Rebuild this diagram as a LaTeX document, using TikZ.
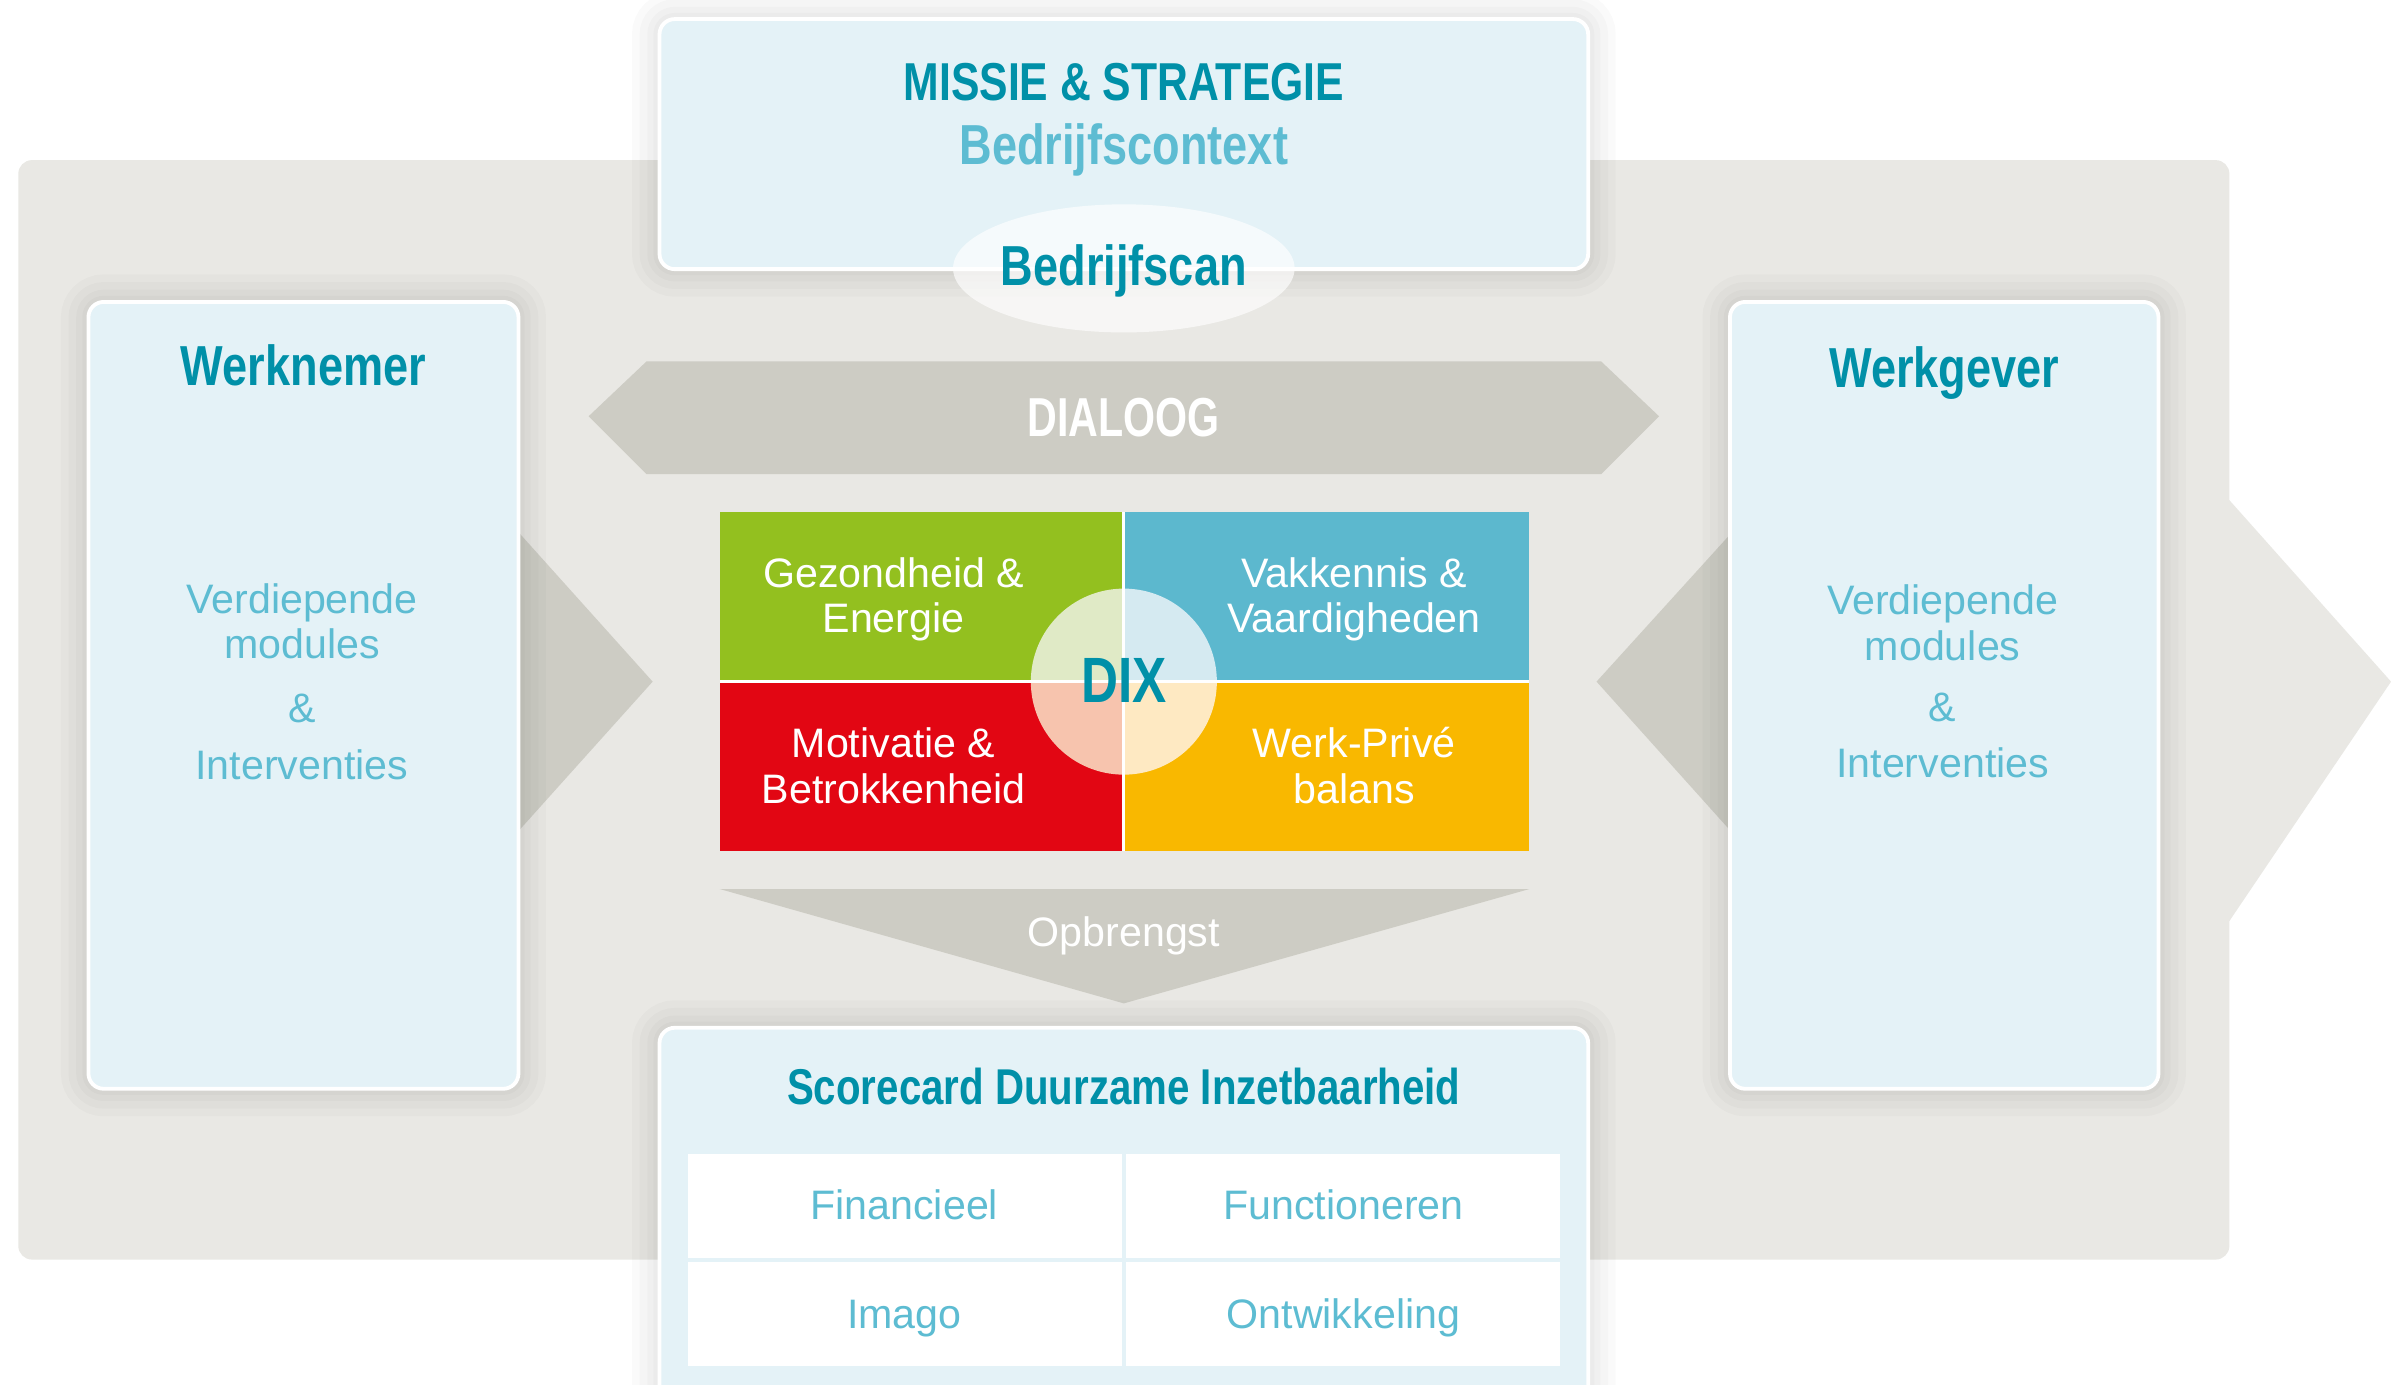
\documentclass[tikz,border=0pt]{standalone}
\usepackage{fontspec}
\setmainfont{Liberation Sans}
\newfontfamily\condf[FakeStretch=0.8]{Liberation Sans}
\newfontfamily\condg[FakeStretch=0.75]{Liberation Sans}
\usetikzlibrary{shapes.geometric}
\definecolor{panelgrey}{HTML}{E9E8E4}
\definecolor{arrowgrey}{HTML}{CDCCC4}
\definecolor{boxblue}{HTML}{E4F2F7}
\definecolor{diteal}{HTML}{0090A8}
\definecolor{ditealL}{HTML}{5DBCD2}
\definecolor{qgreen}{HTML}{93C01F}
\definecolor{qblue}{HTML}{5CB8CE}
\definecolor{qred}{HTML}{E20613}
\definecolor{qyellow}{HTML}{F9B800}
\definecolor{lgreen}{HTML}{E0EAC6}
\definecolor{lblue}{HTML}{D5EAF1}
\definecolor{lred}{HTML}{F7C4AE}
\definecolor{lyellow}{HTML}{FEE9C2}
\begin{document}
\begin{tikzpicture}[x=1pt,y=-1pt,
  halo/.style={preaction={draw=black, fill=none, draw opacity=0.018, line width=36pt}},
  bluebox/.style={draw=white, line width=2.5pt, fill=boxblue, rounded corners=10pt, inner sep=0pt,
    preaction={draw=black, fill=none, draw opacity=0.018, line width=36pt},
    preaction={draw=black, fill=none, draw opacity=0.018, line width=26pt},
    preaction={draw=black, fill=none, draw opacity=0.018, line width=16pt},
    preaction={draw=black, fill=none, draw opacity=0.018, line width=8pt}},
  titletxt/.style={font=\condf\bfseries\fontsize{37}{40}\selectfont, text=diteal, anchor=base, inner sep=0pt},
  bodytxt/.style={font=\fontsize{27}{30}\selectfont, text=ditealL, anchor=base, inner sep=0pt},
  quadtxt/.style={font=\fontsize{27}{30}\selectfont, text=white, anchor=base, inner sep=0pt},
  quad/.style={inner sep=0pt, minimum width=263.6pt, minimum height=110pt}]
\useasboundingbox (0,0) rectangle (1568,908);
\clip (0,0) rectangle (1568,908);
\fill[white] (0,0) rectangle (1568,908);

% grey panel with right arrow
\node[fill=panelgrey, rounded corners=9pt, minimum width=1450pt, minimum height=721pt, inner sep=0pt] (panel) at (737,465.5) {};
\fill[panelgrey] (1450,328) -- (1462,328) -- (1568,447) -- (1462,604) -- (1450,604) -- cycle;

% notches pointing to the centre
\fill[arrowgrey] (325,349) -- (340,349) -- (428,447) -- (340,545) -- (325,545) -- cycle;
\fill[arrowgrey] (1150,350) -- (1135,350) -- (1047,447) -- (1135,545) -- (1150,545) -- cycle;

% DIALOOG band
\fill[arrowgrey] (386,273) -- (424,237) -- (1050,237) -- (1088,273) -- (1050,311) -- (424,311) -- cycle;
\node[font=\condg\bfseries\fontsize{36}{40}\selectfont, text=white, anchor=base, inner sep=0pt] (dialoog) at (737,286) {DIALOOG};

% Opbrengst arrow
\fill[arrowgrey] (472,583) -- (1003,583) -- (737,658) -- cycle;
\node[quadtxt] (opbrengst) at (737,621) {Opbrengst};

% top box
\node[bluebox, minimum width=609pt, minimum height=164pt] (missie) at (737,94.5) {};
\node[titletxt, font=\condf\bfseries\fontsize{35}{38}\selectfont] (missietxt) at (737,66) {MISSIE \& STRATEGIE};
\node[titletxt, text=ditealL] (context) at (737,108) {Bedrijfscontext};
\node[ellipse, fill=white, fill opacity=0.65, minimum width=224pt, minimum height=84pt, inner sep=0pt] (scanbg) at (737,176) {};
\node[titletxt] (scan) at (737,187) {Bedrijfscan};

% side boxes
\node[bluebox, minimum width=282pt, minimum height=516pt] (werknemer) at (199,456) {};
\node[titletxt] (wntitle) at (199,253) {Werknemer};
\node[bodytxt] (wn1) at (198,402) {Verdiepende};
\node[bodytxt] (wn2) at (198,432) {modules};
\node[bodytxt] (wn3) at (198,474) {\&};
\node[bodytxt] (wn4) at (198,511) {Interventies};

\node[bluebox, minimum width=281pt, minimum height=516pt] (werkgever) at (1275,456) {};
\node[titletxt] (wgtitle) at (1275,254) {Werkgever};
\node[bodytxt] (wg1) at (1274,403) {Verdiepende};
\node[bodytxt] (wg2) at (1274,433) {modules};
\node[bodytxt] (wg3) at (1274,473) {\&};
\node[bodytxt] (wg4) at (1274,510) {Interventies};

% DIX quadrants
\fill[white] (472,336) rectangle (1003,558);
\node[quad, fill=qgreen] (qg) at (603.8,391) {};
\node[quad, fill=qblue, minimum width=265.3pt] (qb) at (870.35,391) {};
\node[quad, fill=qred] (qr) at (603.8,502.85) {};
\node[quad, fill=qyellow, minimum width=265.3pt] (qy) at (870.35,502.85) {};
\node[circle, minimum size=122pt, inner sep=0pt] (dixc) at (737,447) {};
\begin{scope}
  \clip (737,447) circle [radius=61pt];
  \fill[lgreen] (670,380) rectangle (735.6,446);
  \fill[lblue] (737.7,380) rectangle (805,446);
  \fill[lred] (670,447.7) rectangle (735.6,515);
  \fill[lyellow] (737.7,447.7) rectangle (805,515);
\end{scope}
\node[titletxt, font=\condf\bfseries\fontsize{42}{46}\selectfont] (dix) at (737,461) {DIX};

\node[quadtxt] (g1) at (586,385) {Gezondheid \&};
\node[quadtxt] (g2) at (586,415) {Energie};
\node[quadtxt] (b1) at (888,385) {Vakkennis \&};
\node[quadtxt] (b2) at (888,415) {Vaardigheden};
\node[quadtxt] (r1) at (586,497) {Motivatie \&};
\node[quadtxt] (r2) at (586,527) {Betrokkenheid};
\node[quadtxt] (y1) at (888,497) {Werk-Privé};
\node[quadtxt] (y2) at (888,527) {balans};

% scorecard
\node[bluebox, minimum width=609pt, minimum height=266pt] (scorecard) at (737,807) {};
\node[titletxt, font=\condf\bfseries\fontsize{33}{36}\selectfont] (sctitle) at (737,724) {Scorecard Duurzame Inzetbaarheid};
\node[fill=white, minimum width=572pt, minimum height=139pt, inner sep=0pt] (table) at (737,826.5) {};
\draw[boxblue, line width=2.5pt] (table.north) -- (table.south);
\draw[boxblue, line width=2.5pt] (table.west) -- (table.east);
\node[bodytxt] (c1) at (593,800) {Financieel};
\node[bodytxt] (c2) at (881,800) {Functioneren};
\node[bodytxt] (c3) at (593,871) {Imago};
\node[bodytxt] (c4) at (881,871) {Ontwikkeling};
\end{tikzpicture}
\end{document}
